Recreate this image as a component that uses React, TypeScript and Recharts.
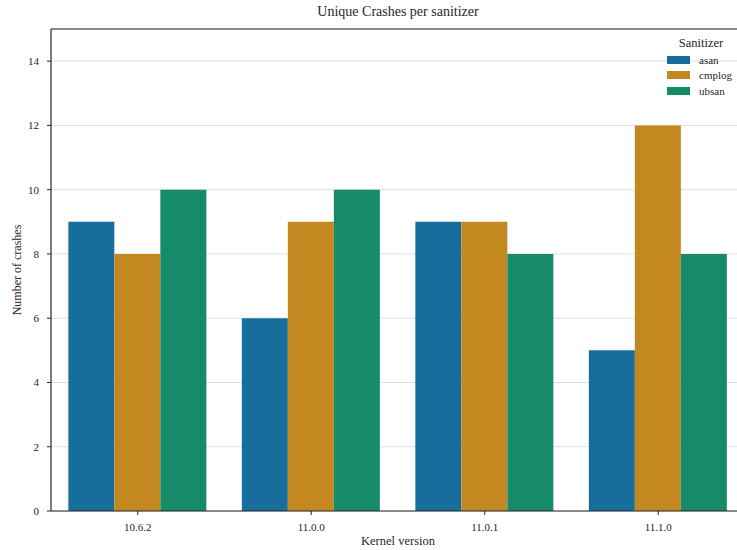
import React from "react";
import { BarChart, Bar, XAxis, YAxis, CartesianGrid, ReferenceLine, Label } from "recharts";

const kernels = ["10.6.2", "11.0.0", "11.0.1", "11.1.0"];
const asan = [9, 6, 9, 5];
const cmplog = [8, 9, 9, 12];
const ubsan = [10, 10, 8, 8];
const yTicks = [0, 2, 4, 6, 8, 10, 12, 14];

const sanitizers = [
  { key: "asan", color: "#176d9c" },
  { key: "cmplog", color: "#c38820" },
  { key: "ubsan", color: "#158b6a" },
];

const data = kernels.map((k, i) => ({ kernel: k, asan: asan[i], cmplog: cmplog[i], ubsan: ubsan[i] }));

const FONT = "'Liberation Serif', 'DejaVu Serif', serif";
const INK = "#262626";

// legend sits inside the plot's top-right corner, no frame
function SanitizerLegend() {
  return (
    <div style={{ position: "absolute", top: 36, left: 667, fontFamily: FONT, color: INK, width: 64 }}>
      <div style={{ fontSize: 12.5, textAlign: "center", lineHeight: "15px", marginBottom: 1, marginLeft: 4 }}>
        Sanitizer
      </div>
      {sanitizers.map((s) => (
        <div key={s.key} style={{ display: "flex", alignItems: "center", height: 15.5 }}>
          <span style={{ width: 23, height: 8, background: s.color, display: "inline-block", marginRight: 9, flex: "none" }} />
          <span style={{ fontSize: 11 }}>{s.key}</span>
        </div>
      ))}
    </div>
  );
}

export default function App() {
  return (
    <div
      style={{
        position: "fixed",
        top: 0,
        left: 0,
        width: 737,
        height: 550,
        overflow: "hidden",
        background: "#fff",
      }}
    >
      <div
        style={{
          position: "absolute",
          top: 4,
          left: 51,
          width: 694,
          textAlign: "center",
          fontFamily: FONT,
          fontSize: 14,
          color: INK,
        }}
      >
        Unique Crashes per sanitizer
      </div>
      <BarChart
        width={760}
        height={550}
        data={data}
        margin={{ top: 29, right: 15, bottom: 9, left: 0 }}
        barCategoryGap="10%"
        barGap={0}
      >
        <CartesianGrid horizontal vertical={false} stroke="#dedede" strokeWidth={1} />
        <XAxis
          dataKey="kernel"
          height={30}
          tickSize={4}
          tickMargin={8}
          stroke={INK}
          tick={{ fontFamily: FONT, fontSize: 11, fill: INK }}
          tickLine={{ stroke: INK }}
          axisLine={{ stroke: INK, strokeWidth: 1.2 }}
        >
          <Label
            content={({ viewBox }: any) => (
              <text
                x={viewBox.x + viewBox.width / 2}
                y={viewBox.y + 34}
                textAnchor="middle"
                style={{ fontFamily: FONT, fontSize: 12.5, fill: INK }}
              >
                Kernel version
              </text>
            )}
          />
        </XAxis>
        <YAxis
          width={51}
          domain={[0, 15]}
          ticks={yTicks}
          interval={0}
          allowDataOverflow
          tickSize={4}
          tickMargin={8}
          tick={{ fontFamily: FONT, fontSize: 11, fill: INK }}
          tickLine={{ stroke: INK }}
          axisLine={{ stroke: INK, strokeWidth: 1.2 }}
        >
          <Label
            content={({ viewBox }: any) => {
              const cx = viewBox.x + 21;
              const cy = viewBox.y + viewBox.height / 2;
              return (
                <text
                  x={cx}
                  y={cy}
                  transform={`rotate(-90 ${cx} ${cy})`}
                  textAnchor="middle"
                  style={{ fontFamily: FONT, fontSize: 12, fill: INK }}
                >
                  Number of crashes
                </text>
              );
            }}
          />
        </YAxis>
        <ReferenceLine y={15} stroke={INK} strokeWidth={1.2} ifOverflow="extendDomain" />
        {sanitizers.map((s) => (
          <Bar key={s.key} dataKey={s.key} fill={s.color} isAnimationActive={false} />
        ))}
      </BarChart>
      <SanitizerLegend />
    </div>
  );
}
